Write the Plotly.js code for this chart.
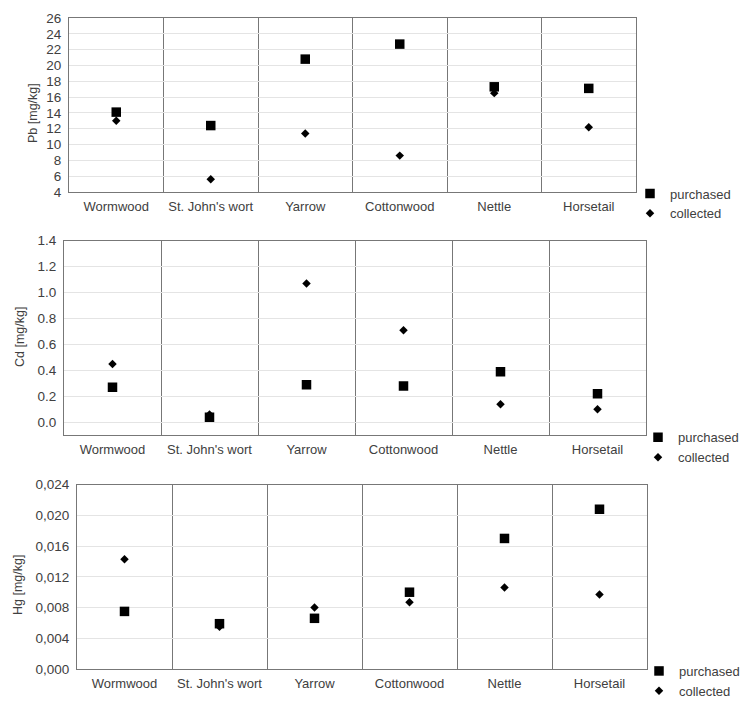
<!DOCTYPE html>
<html>
<head>
<meta charset="utf-8">
<script src="https://cdn.plot.ly/plotly-3.0.1.min.js"></script>
<style>html,body{margin:0;padding:0;background:#fff;width:747px;height:703px;overflow:hidden}#chart{width:747px;height:703px}</style>
</head>
<body>
<div id="chart"></div>
<script>
const categories = ["Wormwood", "St. John's wort", "Yarrow", "Cottonwood", "Nettle", "Horsetail"];
const pbPurchased = [14.1, 12.4, 20.8, 22.7, 17.3, 17.1];
const pbCollected = [13.0, 5.6, 11.4, 8.6, 16.5, 12.2];
const cdPurchased = [0.27, 0.04, 0.29, 0.28, 0.39, 0.22];
const cdCollected = [0.45, 0.06, 1.07, 0.71, 0.14, 0.10];
const hgPurchased = [0.0075, 0.0059, 0.0066, 0.0100, 0.0170, 0.0208];
const hgCollected = [0.0143, 0.0055, 0.0080, 0.0087, 0.0106, 0.0097];
const hgTickVals = [0, 0.004, 0.008, 0.012, 0.016, 0.020, 0.024];
const hgTickText = ["0,000", "0,004", "0,008", "0,012", "0,016", "0,020", "0,024"];

const W = 747, H = 703;
const textColor = '#404040';
const frameColor = '#777777';
const gridColor = '#e4e4e4';
const font = 'Liberation Sans, Arial, sans-serif';

function px2x(a, b) { return [a / W, b / W]; }
function px2y(top, bottom) { return [1 - bottom / H, 1 - top / H]; }

function xAxis(dom, anchor) {
  return {
    domain: dom, anchor: anchor, type: 'category', range: [-0.5, 5.5],
    tickson: 'boundaries', showgrid: true, gridcolor: frameColor, gridwidth: 1,
    ticks: '', showline: true, mirror: true, linecolor: frameColor, linewidth: 1,
    tickfont: {size: 13, color: textColor, family: font}, automargin: false, fixedrange: true,
    ticklabelstandoff: 2
  };
}
function yAxis(dom, anchor, range, extra) {
  return Object.assign({
    domain: dom, anchor: anchor, range: range, showgrid: true, gridcolor: gridColor,
    zeroline: false, ticks: '', showline: true, mirror: true, linecolor: frameColor, linewidth: 1,
    tickfont: {size: 13.5, color: textColor, family: font}, automargin: false, fixedrange: true,
    ticklabelstandoff: 4
  }, extra);
}

function pair(purch, coll, xa, ya, leg) {
  return [
    {x: categories, y: purch, xaxis: xa, yaxis: ya, type: 'scatter', mode: 'markers', name: 'purchased',
     legend: leg, marker: {symbol: 'square', size: 9.5, color: '#000'}},
    {x: categories, y: coll, xaxis: xa, yaxis: ya, type: 'scatter', mode: 'markers', name: 'collected',
     legend: leg, marker: {symbol: 'diamond', size: 6.5, color: '#000'}}
  ];
}

const data = [].concat(
  pair(pbPurchased, pbCollected, 'x', 'y', 'legend'),
  pair(cdPurchased, cdCollected, 'x2', 'y2', 'legend2'),
  pair(hgPurchased, hgCollected, 'x3', 'y3', 'legend3')
);

function legendAt(left, top) {
  return {x: left / W, xanchor: 'left', y: 1 - top / H, yanchor: 'top', bgcolor: 'rgba(0,0,0,0)',
          font: {size: 13, color: textColor, family: font}, tracegroupgap: 0, itemwidth: 30};
}

function yTitle(text, xpx, ypx) {
  return {text: text, xref: 'paper', yref: 'paper', x: xpx / W, y: 1 - ypx / H, showarrow: false,
          textangle: -90, xanchor: 'center', yanchor: 'middle', font: {size: 12.5, color: textColor, family: font}};
}

const layout = {
  width: W, height: H, margin: {l: 0, r: 0, t: 0, b: 0, autoexpand: false},
  paper_bgcolor: '#fff', plot_bgcolor: '#fff', showlegend: true,
  font: {family: font, color: textColor},
  xaxis: xAxis(px2x(69, 636), 'y'),
  yaxis: yAxis(px2y(18, 192), 'x', [4, 26], {tick0: 4, dtick: 2}),
  xaxis2: xAxis(px2x(64, 646), 'y2'),
  yaxis2: yAxis(px2y(240.7, 435.3), 'x2', [-0.1, 1.4], {tick0: 0, dtick: 0.2, tickformat: '.1f'}),
  xaxis3: xAxis(px2x(77, 647), 'y3'),
  yaxis3: yAxis(px2y(484.7, 669), 'x3', [0, 0.024], {tickmode: 'array', tickvals: hgTickVals, ticktext: hgTickText}),
  legend: legendAt(630, 178.5),
  legend2: legendAt(638, 422.3),
  legend3: legendAt(639, 656),
  annotations: [
    yTitle('Pb [mg/kg]', 33, 113),
    yTitle('Cd [mg/kg]', 20, 337),
    yTitle('Hg [mg/kg]', 18, 585)
  ]
};

Plotly.newPlot('chart', data, layout, {displayModeBar: false, staticPlot: true});
</script>
</body>
</html>
